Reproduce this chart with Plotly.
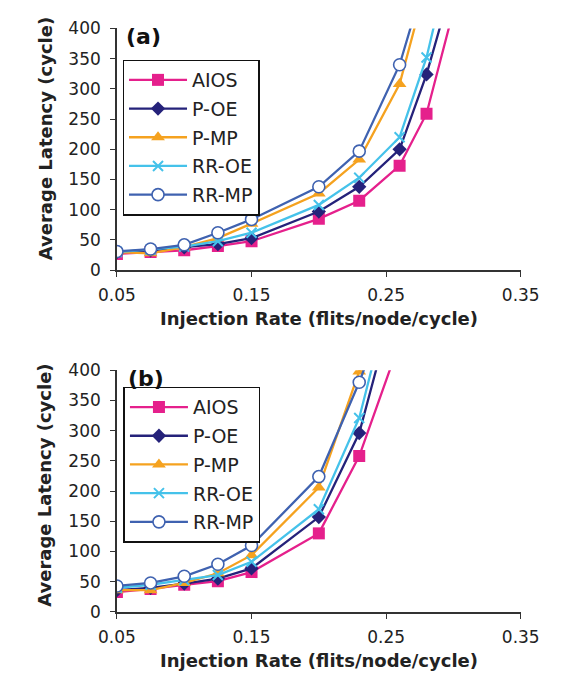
import plotly.graph_objects as go

# ---------------- data ----------------
series_names = ["AIOS", "P-OE", "P-MP", "RR-OE", "RR-MP"]

rate_a = [0.05, 0.075, 0.1, 0.125, 0.15, 0.2, 0.23, 0.26, 0.28, 0.3]
aios_a = [27, 30, 33, 40, 48, 85, 115, 173, 259, 430]
poe_a = [30, 33, 38, 43, 53, 97, 138, 200, 324, 480]
pmp_a = [30, 28, 38, 53, 77, 127, 183, 308, 475, None]
rroe_a = [30, 34, 39, 48, 62, 108, 153, 220, 352, 540]
rrmp_a = [31, 35, 42, 62, 84, 138, 197, 340, 490, None]

rate_b = [0.05, 0.075, 0.1, 0.125, 0.15, 0.2, 0.23, 0.26]
aios_b = [33, 38, 45, 51, 66, 130, 258, 446]
poe_b = [36, 40, 47, 55, 72, 157, 296, 546]
pmp_b = [36, 36, 48, 64, 94, 206, 398, 620]
rroe_b = [40, 45, 53, 61, 83, 170, 321, 584]
rrmp_b = [43, 48, 59, 79, 110, 224, 380, 560]

x_ticks = [0.05, 0.15, 0.25, 0.35]
y_ticks = [0, 50, 100, 150, 200, 250, 300, 350, 400]
panel_labels = ["(a)", "(b)"]
x_title = "Injection Rate (flits/node/cycle)"
y_title = "Average Latency (cycle)"

# ---------------- styles ----------------
colors = ["#E5208C", "#25227A", "#F5A21F", "#45C2EA", "#3F62B0"]
symbols = ["square", "diamond", "triangle-up", "x-thin", "circle"]
msizes = [12, 11, 12, 10, 12]

W, H = 564, 687
FONT = "DejaVu Sans, Arial, sans-serif"

fig = go.Figure()

panels = [
    (rate_a, [aios_a, poe_a, pmp_a, rroe_a, rrmp_a], "x", "y", "legend"),
    (rate_b, [aios_b, poe_b, pmp_b, rroe_b, rrmp_b], "x2", "y2", "legend2"),
]

for p, (xs, ys_list, xa, ya, leg) in enumerate(panels):
    for i, (name, ys) in enumerate(zip(series_names, ys_list)):
        if symbols[i] == "x-thin":
            marker = dict(symbol="x-thin", size=msizes[i], color=colors[i],
                          line=dict(color=colors[i], width=2))
        elif symbols[i] == "circle":
            marker = dict(symbol="circle", size=msizes[i], color="white",
                          line=dict(color=colors[i], width=1.6))
        else:
            marker = dict(symbol=symbols[i], size=msizes[i], color=colors[i],
                          line=dict(width=0))
        fig.add_trace(go.Scatter(
            x=xs, y=ys, name=name, mode="lines+markers",
            line=dict(color=colors[i], width=2.3),
            marker=marker, xaxis=xa, yaxis=ya, legend=leg,
            legendgroup=f"{p}-{i}", connectgaps=False,
        ))

# pixel -> paper helpers
def px(x):
    return x / W

def py(y):
    return (H - y) / H

x_dom = [px(105), px(538)]
top_dom = [py(268), py(19)]
bot_dom = [py(620), py(371)]

axis_common = dict(
    showline=True, linecolor="#333333", linewidth=1.5,
    ticks="outside", ticklen=5, tickwidth=1.3, tickcolor="#333333",
    showgrid=False, zeroline=False,
    tickfont=dict(family=FONT, size=17, color="#222222"),
)

fig.update_layout(
    width=W, height=H,
    margin=dict(l=0, r=0, t=0, b=0),
    paper_bgcolor="white", plot_bgcolor="white",
    showlegend=True,
    xaxis=dict(domain=x_dom, range=[0.05, 0.35], tickvals=x_ticks,
               ticktext=[f"{v:.2f}" for v in x_ticks], anchor="y",
               ticklabelstandoff=4, **axis_common),
    yaxis=dict(domain=top_dom, range=[0, 400], tickvals=y_ticks, anchor="x",
               ticklabelstandoff=6, **axis_common),
    xaxis2=dict(domain=x_dom, range=[0.05, 0.35], tickvals=x_ticks,
                ticktext=[f"{v:.2f}" for v in x_ticks], anchor="y2",
                ticklabelstandoff=4, **axis_common),
    yaxis2=dict(domain=bot_dom, range=[0, 400], tickvals=y_ticks, anchor="x2",
                ticklabelstandoff=6, **axis_common),
)

legend_common = dict(
    xanchor="left", yanchor="top",
    bgcolor="white", bordercolor="#111111", borderwidth=1.5,
    font=dict(family=FONT, size=19, color="#222222"),
    tracegroupgap=1, itemwidth=58,
)
fig.update_layout(
    legend=dict(x=px(111), y=py(51), **legend_common),
    legend2=dict(x=px(112), y=py(388), **legend_common),
)

annotations = []
for label, (cx, cy) in zip(panel_labels, [(113, 27), (115, 380)]):
    annotations.append(dict(
        text=f"<b>{label}</b>", x=px(cx), y=py(cy), xref="paper", yref="paper",
        xanchor="left", yanchor="middle", showarrow=False,
        font=dict(family=FONT, size=22, color="#111111"),
    ))
for cy in [133, 490]:
    annotations.append(dict(
        text=f"<b>{y_title}</b>", x=px(28), y=py(cy), xref="paper", yref="paper",
        xanchor="center", yanchor="middle", textangle=-90, showarrow=False,
        font=dict(family=FONT, size=18, color="#222222"),
    ))
for cy in [318, 670]:
    annotations.append(dict(
        text=f"<b>{x_title}</b>", x=px(322), y=py(cy), xref="paper", yref="paper",
        xanchor="center", yanchor="middle", showarrow=False,
        font=dict(family=FONT, size=18, color="#222222"),
    ))
fig.update_layout(annotations=annotations)

fig.write_html("out.html")
